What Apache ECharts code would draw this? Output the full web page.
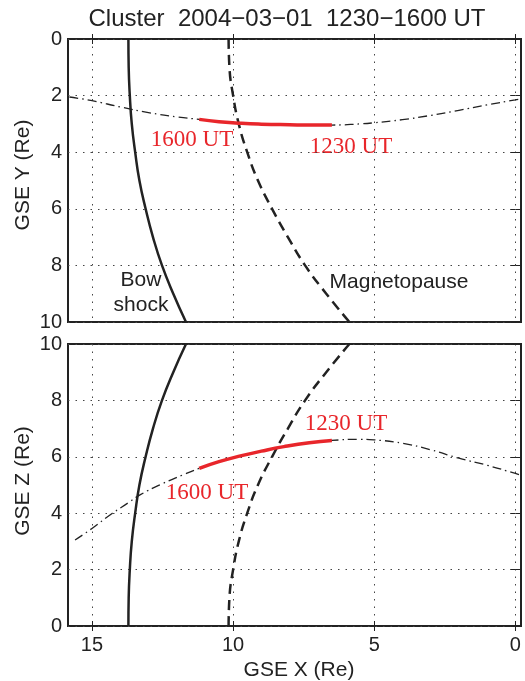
<!DOCTYPE html>
<html>
<head>
<meta charset="utf-8">
<script src="https://cdn.jsdelivr.net/npm/echarts@6/dist/echarts.min.js"></script>
<style>
  html, body { margin: 0; padding: 0; background: #fff; }
  #chart { width: 525px; height: 681px; }
</style>
</head>
<body>
<div id="chart"></div>
<script>
// distance from the Sun-Earth line (Y or Z), Re
var rVals = [0, 1, 2, 3, 4, 5, 6, 7, 8, 9, 10];
// model boundaries, GSE X at each r
var bowX = [13.71, 13.70, 13.66, 13.59, 13.47, 13.32, 13.10, 12.84, 12.52, 12.12, 11.67];
var mpX = [10.16, 10.13, 10.00, 9.80, 9.50, 9.12, 8.62, 8.06, 7.45, 6.70, 5.88];

// orbit in X-Y plane
var orbitYX = [15.8, 15, 14, 13, 12, 11.2, 10.5, 9.7, 9, 8, 7.2, 6.5, 5.5, 5, 4, 3, 2, 1, 0, -0.2];
var orbitYY = [2.05, 2.18, 2.4, 2.6, 2.75, 2.84, 2.92, 2.98, 3.01, 3.03, 3.04, 3.04, 3.0, 2.96, 2.85, 2.7, 2.52, 2.33, 2.15, 2.11];
// orbit in X-Z plane
var orbitZX = [15.6, 15, 14.3, 13.7, 13.3, 12.5, 11.8, 11.2, 10.5, 9.7, 9, 8.2, 7.3, 6.5, 5.5, 5, 4, 3, 2, 1, 0, -0.2];
var orbitZZ = [3.05, 3.46, 3.98, 4.38, 4.65, 5.05, 5.35, 5.59, 5.83, 6.04, 6.2, 6.36, 6.5, 6.58, 6.62, 6.6, 6.48, 6.25, 5.95, 5.7, 5.41, 5.35];
// 1230-1600 UT interval
var startX = 6.5, endX = 11.2;

var xTicks = [0, 5, 10, 15];
var xMin = -0.2, xMax = 15.85;

function pairs(xs, ys) {
    return xs.map(function (x, i) { return [x, ys[i]]; });
}
function inWindow(pts) {
    return pts.filter(function (p) {
        return p[0] >= startX && p[0] <= endX;
    });
}

var sans = 'Liberation Sans, Arial, sans-serif';
var serif = 'Liberation Serif, Times New Roman, serif';
var ink = '#222';
var red = '#e8262b';

function xAxisCfg(gi, pos, labels) {
    return {
        gridIndex: gi, type: 'value', position: pos, inverse: true,
        min: xMin, max: xMax,
        axisLine: { show: false },
        axisTick: { show: true, inside: true, length: 5, customValues: xTicks, lineStyle: { color: ink, width: 1 } },
        axisLabel: { show: labels, customValues: xTicks, color: ink, fontSize: 20, fontFamily: sans, margin: 9 },
        splitLine: { show: pos === 'bottom', lineStyle: { color: '#444', width: 1, type: [1.5, 6] } }
    };
}
function yAxisCfg(gi, pos, inv, labels) {
    return {
        gridIndex: gi, type: 'value', position: pos, inverse: inv,
        min: 0, max: 10, interval: 2,
        axisLine: { show: false },
        axisTick: { show: true, inside: true, length: 5, lineStyle: { color: ink, width: 1 } },
        axisLabel: { show: labels, color: ink, fontSize: 20, fontFamily: sans, margin: 6 },
        splitLine: { show: pos === 'left', lineStyle: { color: '#444', width: 1, type: [1.5, 6] } }
    };
}

var orbitY = pairs(orbitYX, orbitYY);
var orbitZ = pairs(orbitZX, orbitZZ);

function panelSeries(xi, yi, orbit) {
    return [
        {
            type: 'line', xAxisIndex: xi, yAxisIndex: yi, showSymbol: false, smooth: true,
            data: pairs(bowX, rVals), lineStyle: { color: ink, width: 2.5 }, z: 3
        },
        {
            type: 'line', xAxisIndex: xi, yAxisIndex: yi, showSymbol: false, smooth: true,
            data: pairs(mpX, rVals), lineStyle: { color: ink, width: 2.5, type: [10, 6] }, z: 3
        },
        {
            type: 'line', xAxisIndex: xi, yAxisIndex: yi, showSymbol: false, smooth: true,
            data: orbit, lineStyle: { color: ink, width: 1.3, type: [9, 4, 1.5, 4] }, z: 2
        },
        {
            type: 'line', xAxisIndex: xi, yAxisIndex: yi, showSymbol: false, smooth: true,
            data: inWindow(orbit), lineStyle: { color: red, width: 3.5 }, z: 4
        }
    ];
}

function txt(x, y, s, size, fam, color, rot) {
    return {
        type: 'text', x: x, y: y, rotation: rot || 0,
        style: { text: s, fill: color || ink, font: size + 'px ' + fam, align: 'center', verticalAlign: 'middle' }
    };
}

var chart = echarts.init(document.getElementById('chart'));
var option = {
    backgroundColor: '#fff',
    animation: false,
    grid: [
        { left: 68, top: 39, width: 453, height: 283, show: true, borderColor: ink, borderWidth: 2, backgroundColor: 'transparent' },
        { left: 68, top: 344, width: 453, height: 282, show: true, borderColor: ink, borderWidth: 2, backgroundColor: 'transparent' }
    ],
    xAxis: [
        xAxisCfg(0, 'bottom', false),
        xAxisCfg(0, 'top', false),
        xAxisCfg(1, 'bottom', true),
        xAxisCfg(1, 'top', false)
    ],
    yAxis: [
        yAxisCfg(0, 'left', true, true),
        yAxisCfg(0, 'right', true, false),
        yAxisCfg(1, 'left', false, true),
        yAxisCfg(1, 'right', false, false)
    ],
    series: panelSeries(0, 0, orbitY).concat(panelSeries(2, 2, orbitZ)),
    graphic: [
        txt(287, 19, 'Cluster  2004\u221203\u221201  1230\u22121600 UT', 24, sans),
        txt(23, 175, 'GSE Y (Re)', 21, sans, ink, Math.PI / 2),
        txt(23, 481, 'GSE Z (Re)', 21, sans, ink, Math.PI / 2),
        txt(299, 670, 'GSE X (Re)', 21, sans),
        txt(141, 280, 'Bow', 21, sans),
        txt(141, 305, 'shock', 21, sans),
        txt(399, 282, 'Magnetopause', 21, sans),
        txt(192, 140, '1600 UT', 23, serif, red),
        txt(351, 147, '1230 UT', 23, serif, red),
        txt(346, 424, '1230 UT', 23, serif, red),
        txt(207, 493, '1600 UT', 23, serif, red)
    ]
};
chart.setOption(option);
</script>
</body>
</html>
